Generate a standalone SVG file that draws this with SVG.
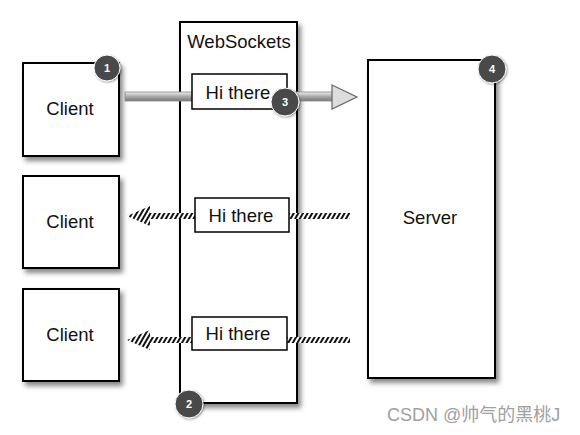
<svg xmlns="http://www.w3.org/2000/svg" width="580" height="435" viewBox="0 0 580 435">
<style>
.box{fill:#fff;stroke:#000;stroke-width:2;filter:url(#sh)}
.msg{fill:#fff;stroke:#000;stroke-width:1.5}
.t{font-family:"Liberation Sans",Arial,sans-serif;font-size:18.5px;fill:#111;text-anchor:middle}
.badge circle{fill:#4a4a4a;stroke:#fff;stroke-width:1;filter:url(#bsh)}
.badge text{font-family:"Liberation Sans",Arial,sans-serif;font-size:11px;font-weight:bold;fill:#fff;text-anchor:middle}
.wm{font-family:"Liberation Sans","Noto Sans CJK SC",sans-serif;font-size:18px;fill:#a0a0a0}
</style>
<defs>
<filter id="sh" x="-20%" y="-20%" width="150%" height="150%">
<feDropShadow dx="3" dy="4" stdDeviation="2.5" flood-color="#555" flood-opacity="0.7"/>
</filter>
<filter id="bsh" x="-50%" y="-50%" width="200%" height="200%">
<feDropShadow dx="1" dy="1" stdDeviation="1" flood-color="#000" flood-opacity="0.4"/>
</filter>
<linearGradient id="shaft" x1="0" y1="0" x2="0" y2="1">
<stop offset="0" stop-color="#eee"/>
<stop offset="0.5" stop-color="#aaa"/>
<stop offset="1" stop-color="#777"/>
</linearGradient>
<pattern id="hatch" width="4" height="4" patternUnits="userSpaceOnUse" patternTransform="rotate(30)">
<rect width="4" height="4" fill="#fff"/>
<rect width="2" height="4" fill="#111"/>
</pattern>
</defs>
<g id="client1"><rect class="box" x="23" y="63" width="96" height="93"/><text class="t" x="70" y="115">Client</text></g>
<g id="client2"><rect class="box" x="23" y="176" width="96" height="92"/><text class="t" x="70" y="228">Client</text></g>
<g id="client3"><rect class="box" x="23" y="289" width="96" height="92"/><text class="t" x="70" y="341">Client</text></g>
<g id="websockets"><rect class="box" x="180" y="22" width="117" height="381"/><text class="t" x="239" y="48">WebSockets</text></g>
<g id="server"><rect class="box" x="368" y="60" width="127" height="318"/><text class="t" x="430" y="224">Server</text></g>
<g id="connectors">
<rect x="125" y="92" width="208" height="9" fill="url(#shaft)" stroke="#888" stroke-width="0.8"/>
<polygon points="332,85 357,97 332,109" fill="#ddd" stroke="#666" stroke-width="1.2"/>
<polygon points="350,213 150,213 150,206 127,216 150,226 150,219 350,219" fill="url(#hatch)"/>
<polygon points="350,337 150,337 150,330 127,340 150,350 150,343 350,343" fill="url(#hatch)"/>
</g>
<g id="msg1"><rect class="msg" x="192" y="74" width="95" height="35"/><text class="t" x="238" y="99">Hi there</text></g>
<g id="msg2"><rect class="msg" x="195" y="198" width="94" height="34"/><text class="t" x="241" y="222">Hi there</text></g>
<g id="msg3"><rect class="msg" x="192" y="317" width="95" height="33"/><text class="t" x="238" y="340">Hi there</text></g>
<g id="badge1" class="badge"><circle cx="107" cy="68" r="13"/><text x="107" y="72">1</text></g>
<g id="badge2" class="badge"><circle cx="189" cy="404" r="14"/><text x="189" y="408">2</text></g>
<g id="badge3" class="badge"><circle cx="285" cy="102" r="14"/><text x="285" y="106">3</text></g>
<g id="badge4" class="badge"><circle cx="492" cy="69" r="14"/><text x="492" y="73">4</text></g>
<text class="wm" x="387" y="421">CSDN @帅气的黑桃J</text>
</svg>
